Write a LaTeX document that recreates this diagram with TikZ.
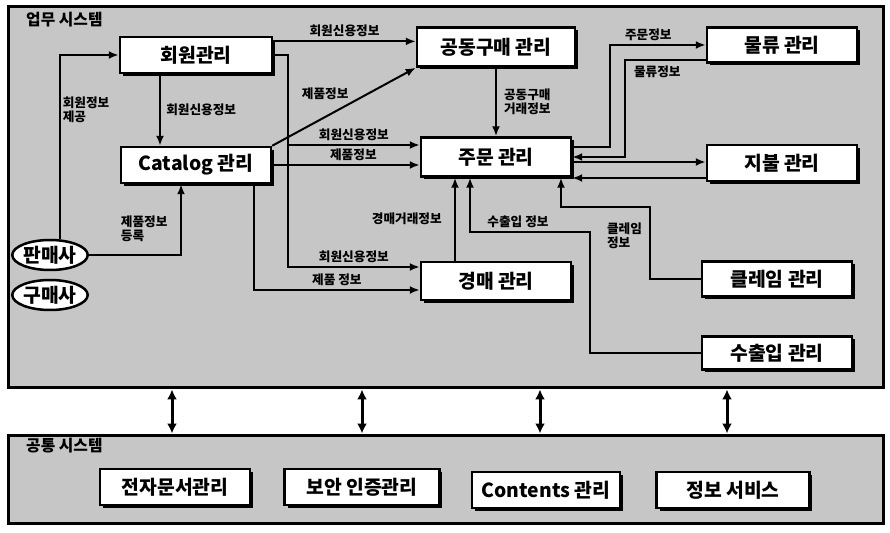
\documentclass[tikz,border=0pt]{standalone}
\usepackage{fontspec}
\setmainfont{Noto Sans CJK KR}
\usetikzlibrary{arrows.meta,shadows,shapes.geometric}

\tikzset{
  sysbox/.style={draw, line width=0.06cm, fill=gray!45, inner sep=0pt},
  modbox/.style={draw, line width=0.05cm, fill=white, minimum width=3.0cm,
    minimum height=0.72cm, inner sep=0pt, font=\fontsize{11}{12}\selectfont\bfseries,
    drop shadow={shadow xshift=0.06cm, shadow yshift=-0.06cm, fill=black, opacity=1}},
  party/.style={draw, line width=0.05cm, fill=white, ellipse, minimum width=1.4cm,
    minimum height=0.6cm, inner sep=0pt, font=\fontsize{11}{12}\selectfont\bfseries},
  flow/.style={line width=0.04cm, -{Latex[length=0.2cm,width=0.16cm]}},
  bidir/.style={line width=0.06cm, {Latex[length=0.2cm,width=0.2cm]}-{Latex[length=0.2cm,width=0.2cm]}},
  lbl/.style={font=\fontsize{7.2}{8}\selectfont\bfseries, inner sep=1pt, align=left},
  ttl/.style={font=\fontsize{9}{10}\selectfont\bfseries, anchor=west}
}

\begin{document}
\begin{tikzpicture}[x=0.02cm, y=-0.02cm]
\useasboundingbox (0,0) rectangle (890,533);

% Drawing system frames
\node[sysbox, minimum width=17.52cm, minimum height=7.64cm] (biz) at (446,197) {};
\node[sysbox, minimum width=17.52cm, minimum height=1.78cm] (base) at (446,479.5) {};
\node[ttl] (biztitle) at (20,20) {업무 시스템};
\node[ttl] (basetitle) at (20,446) {공통 시스템};

% Drawing business modules
\node[modbox, minimum width=3.04cm] (member) at (196,55) {회원관리};
\node[modbox] (catalog) at (196,165) {Catalog 관리};
\node[modbox, minimum width=3.16cm, minimum height=0.78cm] (group) at (496,47) {공동구매 관리};
\node[modbox, minimum height=0.78cm] (order) at (496,157) {주문 관리};
\node[modbox, minimum height=0.76cm] (auction) at (496,281) {경매 관리};
\node[modbox, minimum height=0.7cm] (logis) at (782,45) {물류 관리};
\node[modbox] (pay) at (782,163) {지불 관리};
\node[modbox, minimum height=0.7cm] (claim) at (777,279) {클레임 관리};
\node[modbox, minimum height=0.66cm] (trade) at (777,353) {수출입 관리};

% Drawing parties
\node[party] (seller) at (50,255) {판매사};
\node[party] (buyer) at (50,295) {구매사};

% Drawing common modules
\node[modbox] (edoc) at (175,487) {전자문서관리};
\node[modbox, minimum width=3.1cm] (secur) at (362,487) {보안 인증관리};
\node[modbox, minimum width=2.96cm] (conts) at (546,490) {Contents 관리};
\node[modbox, minimum width=3.06cm] (infos) at (733,490) {정보 서비스};

% Bus coordinates
\coordinate (busM) at (288,0);
\coordinate (busT) at (590,232);
\coordinate (busC) at (650,207);
\coordinate (busLo) at (610,0);
\coordinate (busLi) at (625,0);

% Drawing flows from members and catalog
\draw[flow] ([xshift=0.2cm]seller.north) |- (member.west)
  node[lbl, pos=0.35, right] {회원정보\\제공};
\draw[flow] ([xshift=-0.72cm]member.south) -- ([xshift=-0.72cm]catalog.north)
  node[lbl, midway, right=2pt] {회원신용정보};
\draw[flow] (seller.east) -| ([xshift=-0.3cm]catalog.south)
  node[lbl, pos=0.3, above=6pt] {제품정보\\등록};
\draw[flow] (member.10) -- (member.10 -| group.west)
  node[lbl, midway, above=1pt] {회원신용정보};
\draw[flow] (catalog.north east) -- (group.south west)
  node[lbl, pos=0.55, above left] {제품정보};
\draw[flow] (member.east) -- (member.east -| busM) |- ([yshift=0.24cm]order.west)
  node[lbl, pos=0.75, above=1pt] {회원신용정보};
\draw[flow] (member.east -| busM) |- ([yshift=0.28cm]auction.west)
  node[lbl, pos=0.75, above=1pt] {회원신용정보};
\draw[flow] (catalog.east) -- (catalog.east -| order.west)
  node[lbl, pos=0.55, above=1pt] {제품정보};
\draw[flow] ([xshift=1.16cm]catalog.south) |- ([yshift=-0.18cm]auction.west)
  node[lbl, pos=0.75, above=1pt] {제품 정보};

% Drawing flows into order
\draw[flow] (group.south) -- (order.north)
  node[lbl, midway, right=3pt] {공동구매\\거래정보};
\draw[flow] ([xshift=-0.82cm]auction.north) -- ([xshift=-0.82cm]order.south)
  node[lbl, midway, left=6pt] {경매거래정보};
\draw[flow] (trade.west) -| (busT) -| ([xshift=-0.52cm]order.south)
  node[lbl, pos=0.3, above=1pt] {수출입 정보};
\draw[flow] (claim.west) -| node[lbl, pos=0.8, left=3pt] {클레임\\정보} (busC)
  -| ([xshift=1.3cm]order.south);

% Drawing flows to logistics and payment
\draw[flow] ([yshift=0.2cm]order.east) -| (busLo |- logis.west) -- (logis.west)
  node[lbl, pos=0.4, above=1pt] {주문정보};
\draw[flow] ([yshift=-0.3cm]logis.west) -| node[lbl, pos=0.3, below=2pt] {물류정보}
  (busLi |- order.east) -- (order.east);
\draw[flow] ([yshift=-0.1cm]order.east) -- ([yshift=-0.1cm]order.east -| pay.west);
\draw[flow] ([yshift=-0.3cm]pay.west) -- ([yshift=-0.3cm]pay.west -| order.east);

% Drawing links between systems
\foreach \x in {172,362,540,727} {
  \coordinate (tap) at (\x,0);
  \draw[bidir] (biz.south -| tap) -- (base.north -| tap);
}
\end{tikzpicture}
\end{document}
